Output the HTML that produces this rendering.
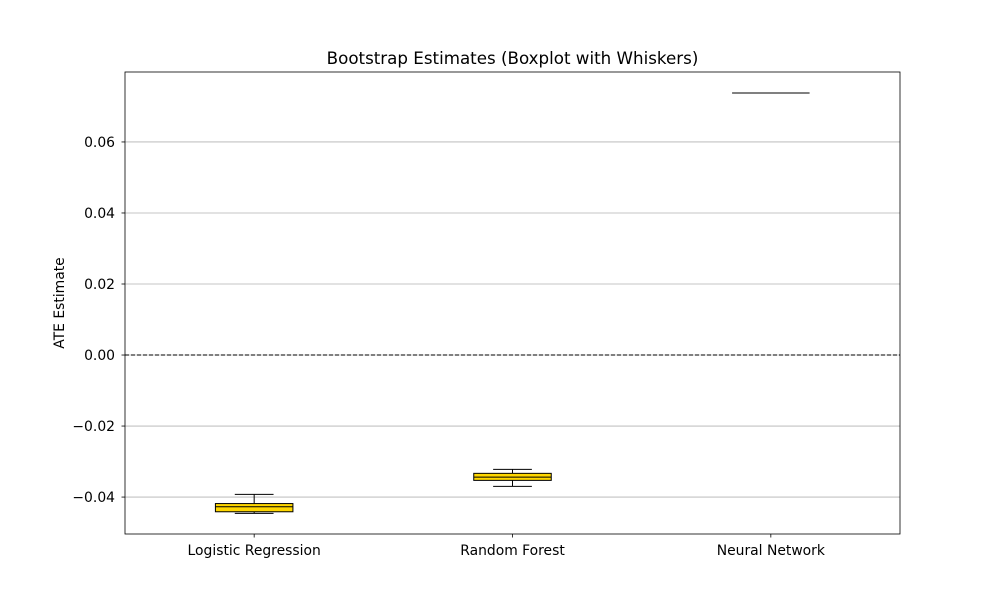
<!DOCTYPE html>
<html><head><meta charset="utf-8"><style>body{margin:0;background:#fff}svg{font-family:"DejaVu Sans","Liberation Sans",sans-serif}</style></head>
<body>
<svg id="chart" width="1000" height="600" xmlns="http://www.w3.org/2000/svg">
<rect width="1000" height="600" fill="#fff"/>
<g id="grid"></g><g id="marks"></g><g id="axes"></g>
</svg>
<script>
const categories = ["Logistic Regression", "Random Forest", "Neural Network"];
const whiskerLow = [-0.04459, -0.03699, 0.0738];
const q1 = [-0.04414, -0.03530, 0.0738];
const medians = [-0.04273, -0.03437, 0.0738];
const q3 = [-0.04183, -0.03332, 0.0738];
const whiskerHigh = [-0.03924, -0.03220, 0.0738];
const yTicks = [-0.04, -0.02, 0.00, 0.02, 0.04, 0.06];
const yTickLabels = ["\u22120.04", "\u22120.02", "0.00", "0.02", "0.04", "0.06"];

const L=125,R=900,T=72,B=534, yMin=-0.0504, yMax=0.0797;
const NS="http://www.w3.org/2000/svg";
const y=v=>B-(v-yMin)/(yMax-yMin)*(B-T);
const x=i=>L+(i+0.5)/categories.length*(R-L);
const bw=0.3*(R-L)/categories.length;
function mk(p,tag,a){const e=document.createElementNS(NS,tag);for(const k in a)e.setAttribute(k,a[k]);p.appendChild(e);return e;}
const grid=document.getElementById('grid'),marks=document.getElementById('marks'),axes=document.getElementById('axes');
yTicks.forEach((t,i)=>{
  const g=mk(grid,'line',{x1:L,x2:R,y1:y(t),y2:y(t),stroke:'#b0b0b0','stroke-width':0.8});
  
  
  const tk=mk(axes,'line',{x1:L-3.5,x2:L,y1:y(t),y2:y(t),stroke:'#000','stroke-width':0.8});
  
  
  const tx=mk(axes,'text',{x:L-10,y:y(t)+5,'text-anchor':'end','font-size':13.9});
  tx.textContent=yTickLabels[i];
  
  
});
const zl=mk(marks,'line',{x1:L,x2:R,y1:y(0),y2:y(0),stroke:'#000','stroke-width':1,'stroke-dasharray':'4,2'});


categories.forEach((c,i)=>{
  const cx=x(i);
  const g=mk(marks,'g',{});
  
  
  mk(g,'line',{x1:cx,x2:cx,y1:y(whiskerLow[i]),y2:y(q1[i]),stroke:'#000','stroke-width':1});
  mk(g,'line',{x1:cx,x2:cx,y1:y(q3[i]),y2:y(whiskerHigh[i]),stroke:'#000','stroke-width':1});
  mk(g,'line',{x1:cx-bw/4,x2:cx+bw/4,y1:y(whiskerLow[i]),y2:y(whiskerLow[i]),stroke:'#000','stroke-width':1});
  mk(g,'line',{x1:cx-bw/4,x2:cx+bw/4,y1:y(whiskerHigh[i]),y2:y(whiskerHigh[i]),stroke:'#000','stroke-width':1});
  mk(g,'rect',{x:cx-bw/2,y:y(q3[i]),width:bw,height:Math.max(0,y(q1[i])-y(q3[i])),fill:'#ffd700',stroke:'#000','stroke-width':1});
  mk(g,'line',{x1:cx-bw/2,x2:cx+bw/2,y1:y(medians[i]),y2:y(medians[i]),stroke:'#000','stroke-width':1});
  const tk=mk(axes,'line',{x1:cx,x2:cx,y1:B,y2:B+3.5,stroke:'#000','stroke-width':0.8});
  
  
  const tx=mk(axes,'text',{x:cx,y:B+21,'text-anchor':'middle','font-size':13.9});
  tx.textContent=c;
  
  
});
const fr=mk(axes,'rect',{x:L,y:T,width:R-L,height:B-T,fill:'none',stroke:'#000','stroke-width':0.8});


const ti=mk(axes,'text',{x:(L+R)/2,y:T-8,'text-anchor':'middle','font-size':16.7});
ti.textContent='Bootstrap Estimates (Boxplot with Whiskers)';


const yl=mk(axes,'text',{x:64,y:(T+B)/2,'text-anchor':'middle','font-size':13.9,transform:'rotate(-90 64 '+(T+B)/2+')'});
yl.textContent='ATE Estimate';


</script>
</body></html>
